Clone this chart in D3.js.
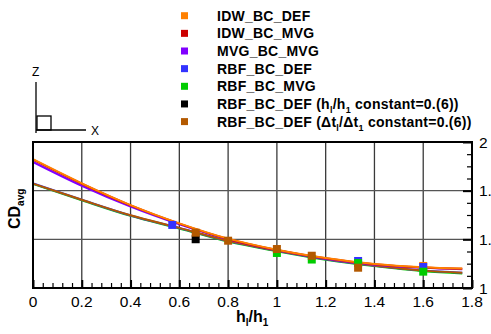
<!DOCTYPE html>
<html><head><meta charset="utf-8">
<script src="https://cdn.jsdelivr.net/npm/d3@7"></script>
<style>html,body{margin:0;padding:0;background:#fff;overflow:hidden}svg{display:block;font-family:"Liberation Sans",Arial,sans-serif}</style>
</head><body>
<svg id="c" width="491" height="334"></svg>
<script>
// ---- data ----
const lineX = [0, 0.2, 0.4, 0.6, 0.8, 1.0, 1.2, 1.4, 1.6, 1.76];
const idwBcDef   = [1.882, 1.717, 1.568, 1.443, 1.338, 1.262, 1.205, 1.164, 1.142, 1.133];
const idwBcMvg   = [1.879, 1.714, 1.566, 1.441, 1.336, 1.260, 1.203, 1.162, 1.140, 1.131];
const mvgBcMvg   = [1.863, 1.700, 1.557, 1.436, 1.333, 1.258, 1.201, 1.160, 1.138, 1.129];
const rbfBcDef   = [1.716, 1.604, 1.497, 1.411, 1.321, 1.255, 1.197, 1.153, 1.120, 1.105];
const rbfBcMvg   = [1.713, 1.601, 1.494, 1.408, 1.318, 1.252, 1.194, 1.150, 1.115, 1.100];
const rbfDtConst = [1.715, 1.604, 1.498, 1.412, 1.323, 1.256, 1.198, 1.154, 1.119, 1.104];

const orangePtsX = [1.6],                      orangePtsY = [1.151];
const bluePtsX   = [0.571, 1.333, 1.6],        bluePtsY   = [1.432, 1.185, 1.144];
const greenPtsX  = [1.0, 1.143, 1.333, 1.6],   greenPtsY  = [1.240, 1.195, 1.171, 1.112];
const blackPtsX  = [0.667],                    blackPtsY  = [1.334];
const brownPtsX  = [0.667, 0.8, 1.0, 1.143, 1.333], brownPtsY = [1.379, 1.324, 1.267, 1.221, 1.139];

const xTicks = [0, 0.2, 0.4, 0.6, 0.8, 1, 1.2, 1.4, 1.6, 1.8];
const xTickLabels = ["0","0.2","0.4","0.6","0.8","1","1.2","1.4","1.6","1.8"];
const yTicks = [1, 4/3, 5/3, 2];
const yTickLabels = ["1","1.33333","1.66667","2"];

const legendNames = ["IDW_BC_DEF","IDW_BC_MVG","MVG_BC_MVG","RBF_BC_DEF","RBF_BC_MVG","RBF_BC_DEF (h|l|/h|1| constant=0.(6))","RBF_BC_DEF (Δt|l|/Δt|1| constant=0.(6))"];
const colors = ["#ff8000","#cc0000","#8000ff","#3333ff","#00cc00","#000000","#b35900"];

// ---- chart ----
const svg = d3.select("#c");
const L = 33, R = 472, T = 142, B = 288;
const x = d3.scaleLinear().domain([0, 1.8]).range([L, R]);
const y = d3.scaleLinear().domain([1, 2]).range([B, T]);

// grid
const g = svg.append("g");
g.selectAll("line.vg").data(xTicks.slice(1, -1)).join("line")
  .attr("x1", d => x(d)).attr("x2", d => x(d)).attr("y1", T).attr("y2", B)
  .attr("stroke", "#3a3a3a").attr("stroke-width", 1.3);
g.selectAll("line.hg").data(yTicks.slice(1, -1)).join("line")
  .attr("x1", L).attr("x2", R).attr("y1", d => y(d)).attr("y2", d => y(d))
  .attr("stroke", "#555").attr("stroke-width", 1.3);

// axes with ticks inward
const xAxis = d3.axisTop(x).tickValues(xTicks).tickSize(8).tickFormat("");
svg.append("g").attr("transform", `translate(0,${B})`).call(xAxis)
  .call(s => s.select(".domain").remove())
  .selectAll("line").attr("stroke", "#000").attr("stroke-width", 2);
const xMinor = d3.range(0, 1.8001, 0.04).filter(v => Math.abs(v / 0.2 - Math.round(v / 0.2)) > 1e-6);
svg.append("g").attr("transform", `translate(0,${B})`)
  .call(d3.axisTop(x).tickValues(xMinor).tickSize(5).tickFormat(""))
  .call(s => s.select(".domain").remove())
  .selectAll("line").attr("stroke", "#000").attr("stroke-width", 1.2);
svg.append("g").attr("transform", `translate(${R},0)`)
  .call(d3.axisLeft(y).tickValues(yTicks).tickSize(9).tickFormat(""))
  .call(s => s.select(".domain").remove())
  .selectAll("line").attr("stroke", "#000").attr("stroke-width", 2);
const yMinor = d3.range(1, 2.0001, 1/12).filter((v, i) => i % 4 !== 0);
svg.append("g").attr("transform", `translate(${R},0)`)
  .call(d3.axisLeft(y).tickValues(yMinor).tickSize(5).tickFormat(""))
  .call(s => s.select(".domain").remove())
  .selectAll("line").attr("stroke", "#000").attr("stroke-width", 1.2);

// tick labels
svg.selectAll("text.xt").data(xTicks).join("text")
  .attr("x", d => x(d)).attr("y", 307).attr("text-anchor", "middle")
  .attr("font-size", 15.5).attr("fill", "#000").text((d, i) => xTickLabels[i]);
svg.selectAll("text.yt").data(yTicks).join("text")
  .attr("x", 479).attr("y", d => y(d) + 5.5).attr("text-anchor", "start")
  .attr("font-size", 15.5).attr("fill", "#000").text((d, i) => yTickLabels[i]);

// lines
const line = d3.line().x(d => x(d[0])).y(d => y(d[1])).curve(d3.curveMonotoneX);
const series = [
  {v: rbfBcMvg, c: colors[4]},
  {v: rbfBcDef, c: colors[3]},
  {v: rbfDtConst, c: colors[6]},
  {v: mvgBcMvg, c: colors[2]},
  {v: idwBcMvg, c: colors[1]},
  {v: idwBcDef, c: colors[0]}
];
svg.append("g").selectAll("path").data(series).join("path")
  .attr("d", s => line(lineX.map((xv, i) => [xv, s.v[i]])))
  .attr("fill", "none").attr("stroke", s => s.c).attr("stroke-width", 2);

// markers
const pts = [
  {xs: orangePtsX, ys: orangePtsY, c: colors[0]},
  {xs: bluePtsX, ys: bluePtsY, c: colors[3]},
  {xs: greenPtsX, ys: greenPtsY, c: colors[4]},
  {xs: blackPtsX, ys: blackPtsY, c: colors[5]},
  {xs: brownPtsX, ys: brownPtsY, c: colors[6]}
];
const ms = 8;
pts.forEach(p => {
  svg.append("g").selectAll("rect").data(p.xs.map((xv, i) => [xv, p.ys[i]])).join("rect")
    .attr("x", d => x(d[0]) - ms / 2).attr("y", d => y(d[1]) - ms / 2)
    .attr("width", ms).attr("height", ms).attr("fill", p.c);
});

// frame
svg.append("rect").attr("x", L).attr("y", T).attr("width", R - L).attr("height", B - T)
  .attr("fill", "none").attr("stroke", "#000").attr("stroke-width", 2);

// rich text helper: segments separated by '|', odd segments are subscripts
function rich(sel, str, subSize) {
  const parts = str.split("|");
  parts.forEach((p, i) => {
    if (!p) return;
    const t = sel.append("tspan").text(p);
    if (i % 2 === 1) t.attr("font-size", subSize).attr("dy", 4);
    else if (i > 0) t.attr("dy", -4);
  });
}

// legend
const lg = svg.append("g");
legendNames.forEach((n, i) => {
  const cy = 15.7 + i * 17.65;
  lg.append("rect").attr("x", 181).attr("y", cy - 3.5).attr("width", 7).attr("height", 7).attr("fill", colors[i]);
  const t = lg.append("text").attr("x", 217).attr("y", cy + 5).attr("font-size", 14)
    .attr("font-weight", "bold").attr("letter-spacing", 0.25).attr("fill", "#000");
  rich(t, n, 9);
});

// axis titles
const xt = svg.append("text").attr("x", 236).attr("y", 322).attr("font-size", 16)
  .attr("font-weight", "bold").attr("fill", "#000");
rich(xt, "h|l|/h|1|", 10);
const yt = svg.append("text").attr("transform", "translate(20,229) rotate(-90)")
  .attr("font-size", 16).attr("font-weight", "bold").attr("fill", "#000");
rich(yt, "CD|avg|", 10);

// axis triad
const tri = svg.append("g").attr("stroke", "#000").attr("stroke-width", 1.3).attr("fill", "none");
tri.append("line").attr("x1", 36).attr("x2", 36).attr("y1", 82).attr("y2", 133);
tri.append("line").attr("x1", 36).attr("x2", 86).attr("y1", 130).attr("y2", 130);
tri.append("rect").attr("x", 37).attr("y", 116).attr("width", 14).attr("height", 14);
svg.append("text").attr("x", 32).attr("y", 76).attr("font-size", 12).attr("fill", "#000").text("Z");
svg.append("text").attr("x", 91).attr("y", 135).attr("font-size", 12).attr("fill", "#000").text("X");
</script>
</body></html>
